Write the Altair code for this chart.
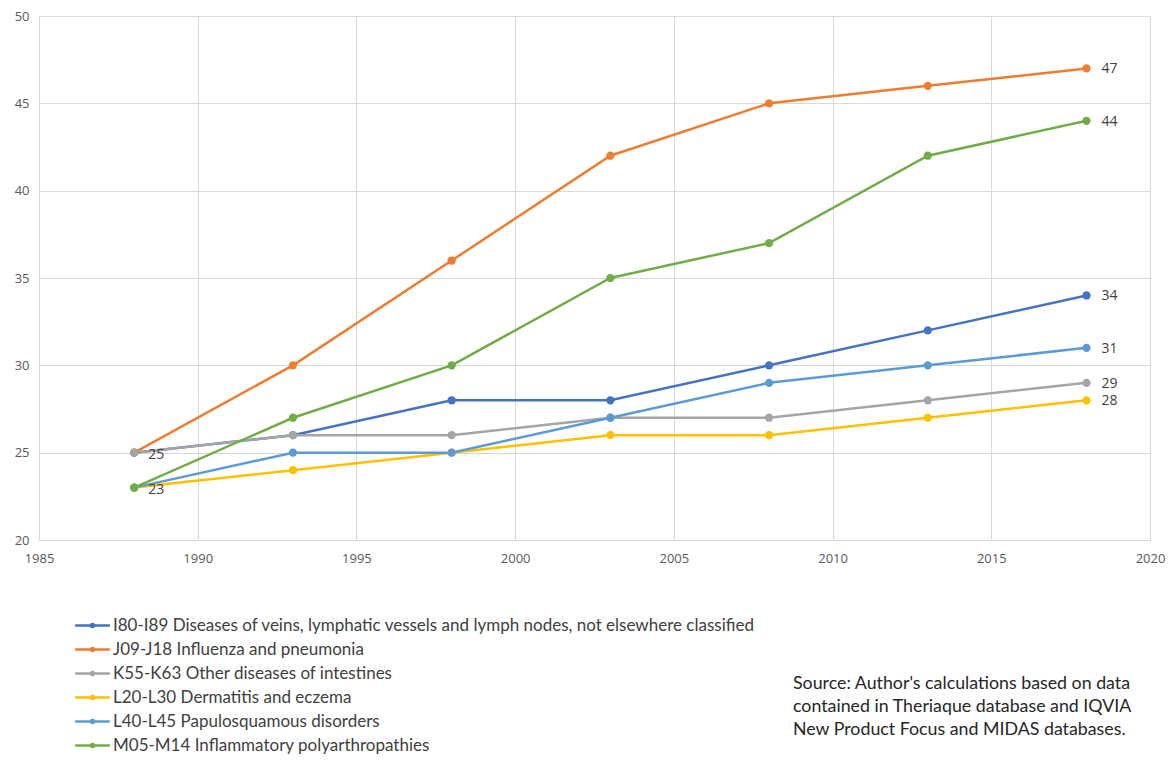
import altair as alt
import pandas as pd

years = [1988, 1993, 1998, 2003, 2008, 2013, 2018]
series_names = [
    "I80-I89 Diseases of veins, lymphatic vessels and lymph nodes, not elsewhere classified",
    "J09-J18 Influenza and pneumonia",
    "K55-K63 Other diseases of intestines",
    "L20-L30 Dermatitis and eczema",
    "L40-L45 Papulosquamous disorders",
    "M05-M14 Inflammatory polyarthropathies",
]
i80 = [25, 26, 28, 28, 30, 32, 34]
j09 = [25, 30, 36, 42, 45, 46, 47]
k55 = [25, 26, 26, 27, 27, 28, 29]
l20 = [23, 24, 25, 26, 26, 27, 28]
l40 = [23, 25, 25, 27, 29, 30, 31]
m05 = [23, 27, 30, 35, 37, 42, 44]
colors = ["#4472C4", "#ED7D31", "#A5A5A5", "#FFC000", "#5B9BD5", "#70AD47"]
start_labels = [(1988, 25), (1988, 23)]
source_text = ("Source: Author's calculations based on data\n"
               "contained in Theriaque database and IQVIA\n"
               "New Product Focus and MIDAS databases.")

rows = []
for name, vals in zip(series_names, [i80, j09, k55, l20, l40, m05]):
    for y, v in zip(years, vals):
        rows.append({"year": y, "value": v, "series": name})
df = pd.DataFrame(rows)
end_df = df[df["year"] == years[-1]]
start_df = pd.DataFrame([{"year": y, "value": v} for y, v in start_labels])

FONT = "Open Sans"
TFONT = "Lato"
GREY = "#595959"

x_enc = alt.X("year:Q", scale=alt.Scale(domain=[1985, 2020], nice=False),
              axis=alt.Axis(values=list(range(1985, 2021, 5)), format="d", title=None,
                            ticks=False, labelPadding=12, grid=True, labelFlush=False,
                            gridColor="#D9D9D9", domainColor="#D9D9D9",
                            labelColor=GREY, labelFontSize=13, labelFont=FONT))
y_enc = alt.Y("value:Q", scale=alt.Scale(domain=[20, 50], nice=False, zero=False),
              axis=alt.Axis(values=list(range(20, 51, 5)), title=None, ticks=False,
                            labelPadding=10, grid=True, gridColor="#D9D9D9", labelFlush=False,
                            domainColor="#D9D9D9", labelColor=GREY,
                            labelFontSize=13, labelFont=FONT))
color_enc = alt.Color("series:N", sort=series_names,
                      scale=alt.Scale(domain=series_names, range=colors),
                      legend=alt.Legend(
                          title=None, orient="none", legendX=45, legendY=601,
                          symbolType="M-5.8,0L5.8,0M-0.5,0A0.5,0.5 0 1,1 0.5,0A0.5,0.5 0 1,1 -0.5,0",
                          symbolSize=36, symbolStrokeWidth=2.5,
                          labelFont=TFONT, labelFontSize=17, labelColor="#404040",
                          rowPadding=6, labelOffset=12, labelLimit=900))

base = alt.Chart(df)
lines = base.mark_line(strokeWidth=2.5).encode(x=x_enc, y=y_enc, color=color_enc)
points = base.mark_circle(size=68, opacity=1).encode(
    x="year:Q", y="value:Q",
    color=alt.Color("series:N", scale=alt.Scale(domain=series_names, range=colors), legend=None))
end_labels = alt.Chart(end_df).mark_text(align="left", dx=15, dy=1, font=FONT,
                                         fontSize=14, color="#404040").encode(
    x="year:Q", y="value:Q", text="value:Q")
st_labels = alt.Chart(start_df).mark_text(align="left", dx=14, dy=2, font=FONT,
                                          fontSize=14, color="#404040").encode(
    x="year:Q", y="value:Q", text="value:Q")
src = alt.Chart(pd.DataFrame({"t": [source_text]})).mark_text(
    align="left", baseline="top", font=TFONT, fontSize=17.8, color="#262626",
    lineBreak="\n", lineHeight=23).encode(
    x=alt.value(754), y=alt.value(659), text="t:N")

chart = alt.layer(lines, points, end_labels, st_labels, src).properties(
    width=1111, height=524,
    autosize=alt.AutoSizeParams(type="none"),
    padding={"left": 39, "top": 16, "right": 25, "bottom": 223},
).configure_view(stroke=None).configure(background="white")

chart.save("out.html", embed_options={"renderer": "svg", "actions": False})
